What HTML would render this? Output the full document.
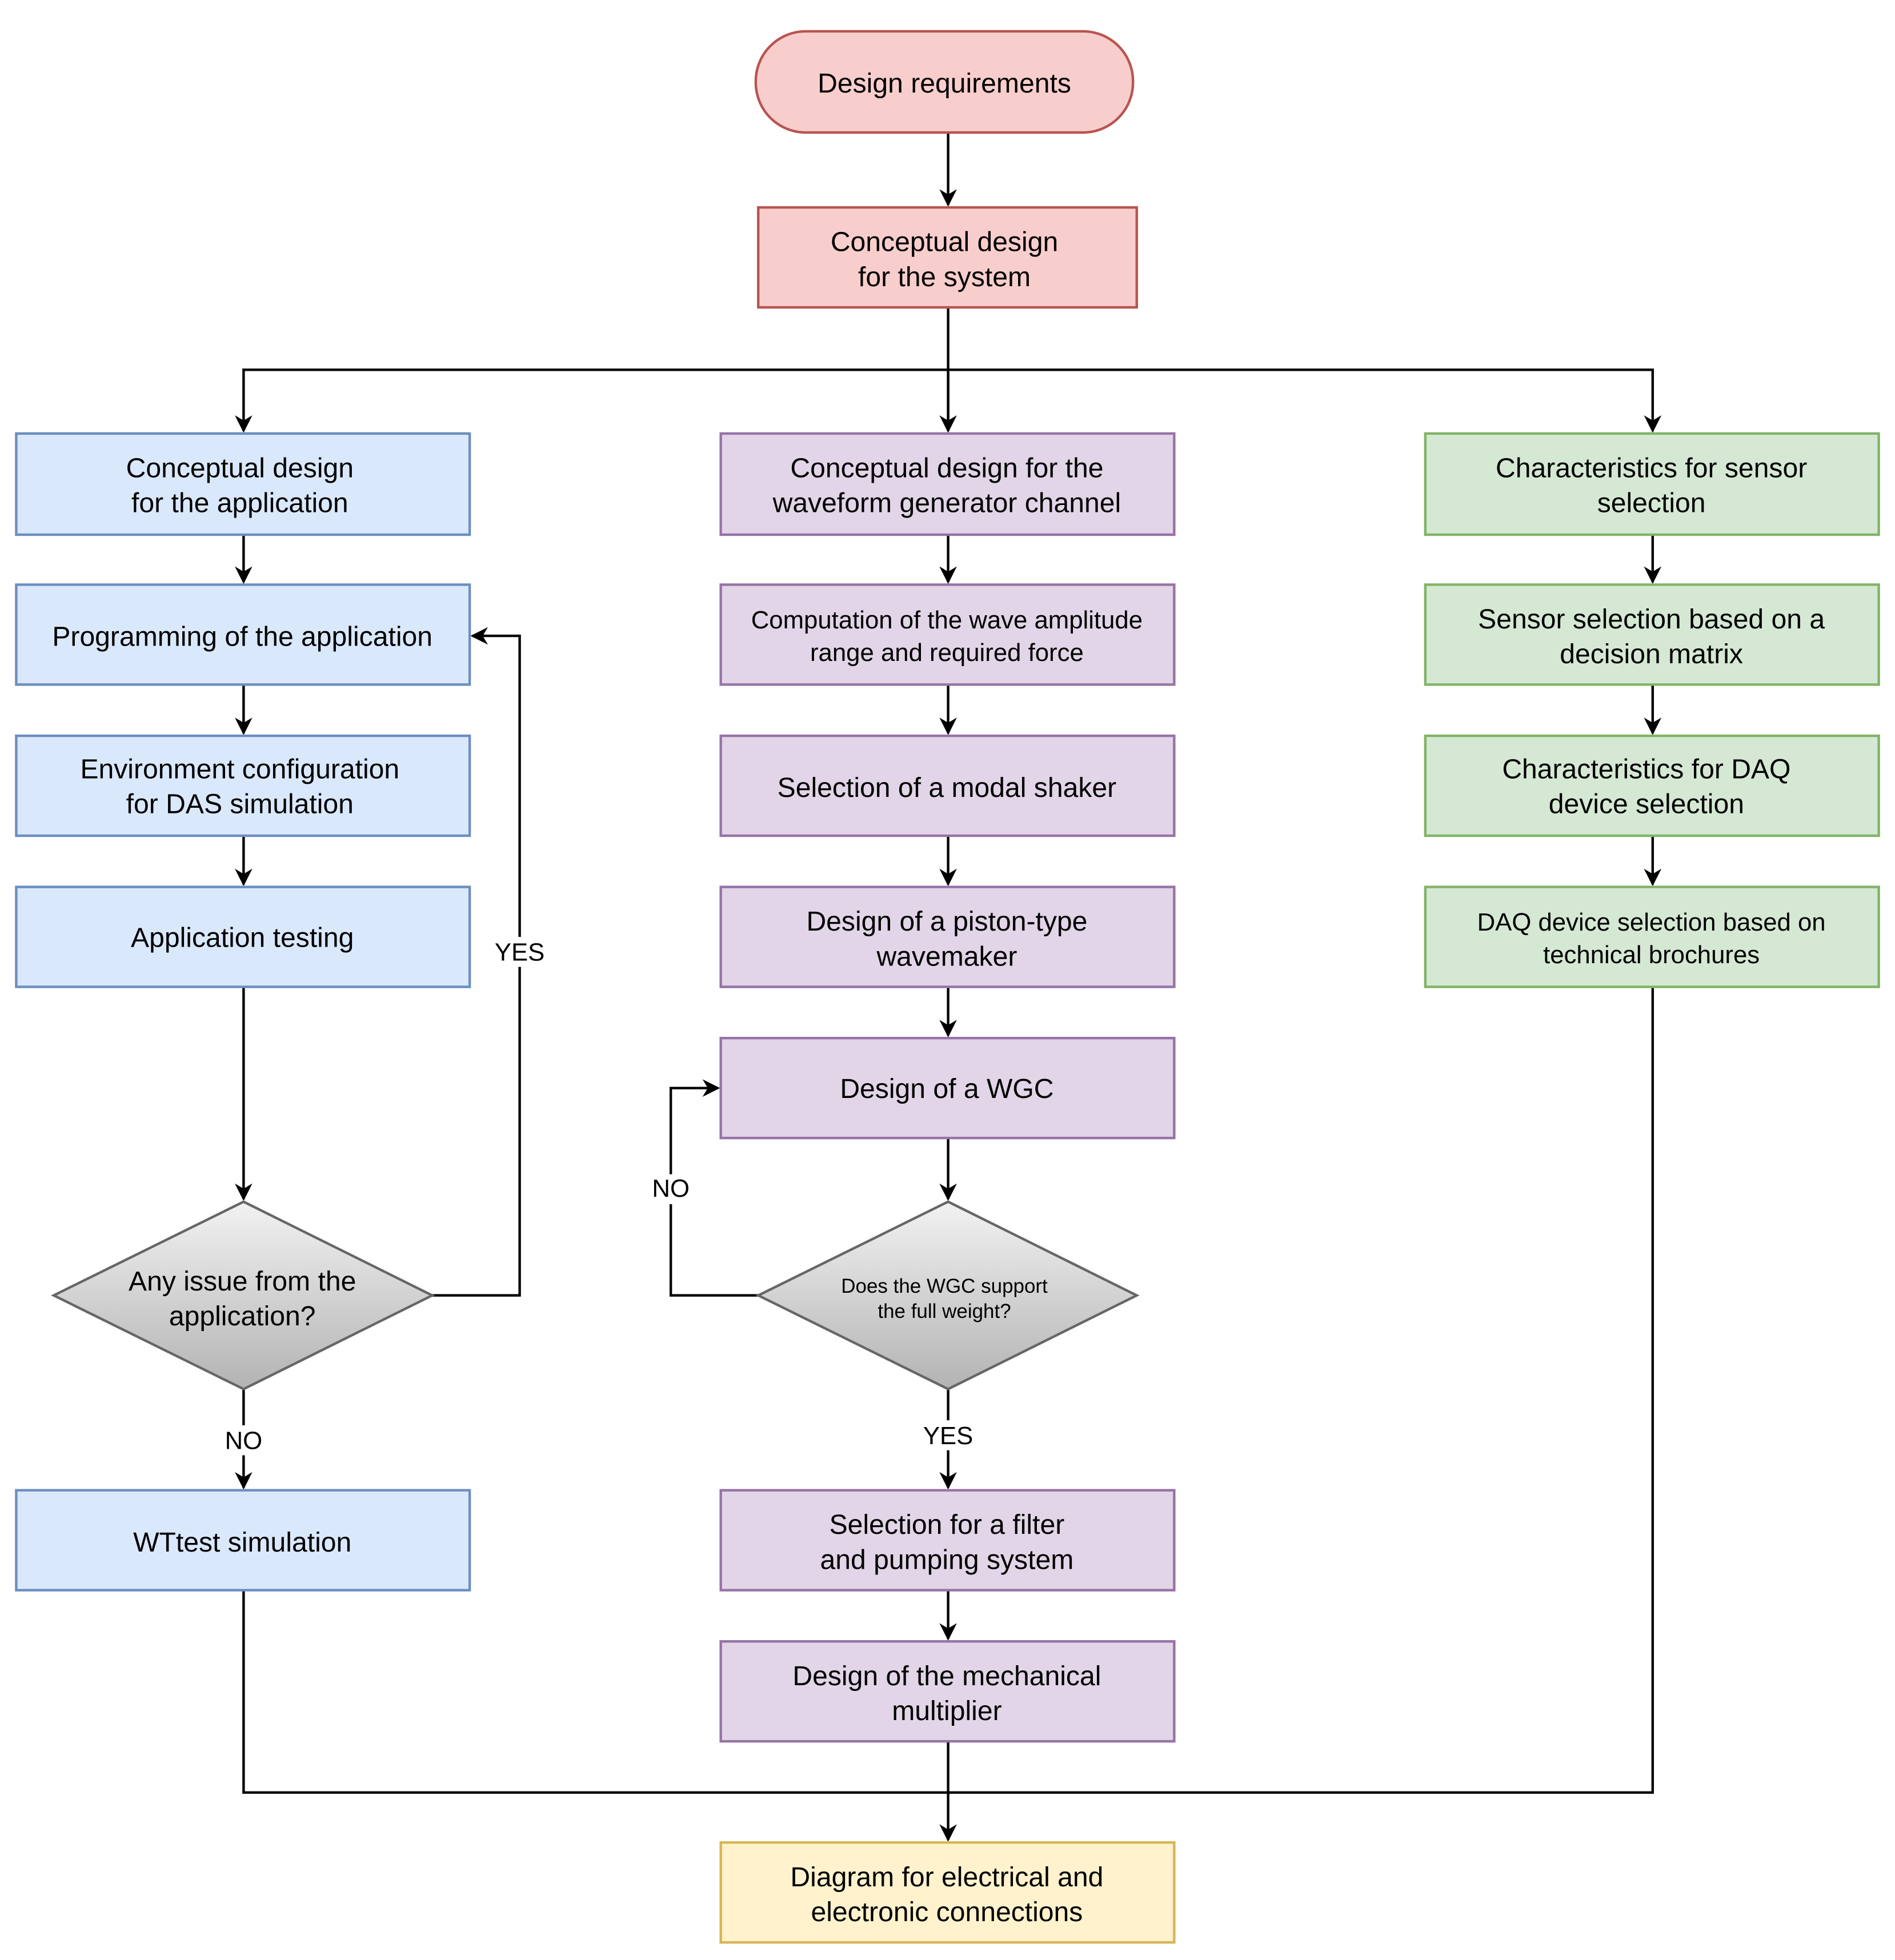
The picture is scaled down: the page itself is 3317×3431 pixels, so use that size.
<!DOCTYPE html>
<html><head><meta charset="utf-8"><style>
html,body{margin:0;padding:0;background:#fff}
svg{display:block}
text{font-family:"Liberation Sans",Arial,sans-serif;fill:#000}
</style></head><body>
<svg width="3317" height="3431" viewBox="0 0 1517 1569" xmlns="http://www.w3.org/2000/svg">
<defs>
<marker id="a" viewBox="0 0 10 10" refX="9" refY="5" markerWidth="14" markerHeight="14" markerUnits="userSpaceOnUse" orient="auto">
<path d="M0,0 L10,5 L0,10 L3,5 z" fill="#000"/></marker>
<linearGradient id="g" x1="0" y1="0" x2="0" y2="1"><stop offset="0" stop-color="#f2f2f2"/><stop offset="1" stop-color="#b3b3b3"/></linearGradient>
</defs>
<rect width="1517" height="1569" fill="#fff"/>
<g fill="none" stroke="#000" stroke-width="2">
<path d="M759 106 V164" marker-end="url(#a)"/>
<path d="M759 246 V345"/>
<path d="M759 296 H195 V345" marker-end="url(#a)"/>
<path d="M759 296 H1323 V345" marker-end="url(#a)"/>
<path d="M759 296 V345" marker-end="url(#a)"/>
<path d="M195 428 V466" marker-end="url(#a)"/>
<path d="M195 548 V587" marker-end="url(#a)"/>
<path d="M195 669 V708" marker-end="url(#a)"/>
<path d="M195 790 V960" marker-end="url(#a)"/>
<path d="M195 1112 V1191" marker-end="url(#a)"/>
<path d="M346 1037 H416 V509 H378" marker-end="url(#a)"/>
<path d="M759 428 V466" marker-end="url(#a)"/>
<path d="M759 548 V587" marker-end="url(#a)"/>
<path d="M759 669 V708" marker-end="url(#a)"/>
<path d="M759 790 V829" marker-end="url(#a)"/>
<path d="M759 911 V960" marker-end="url(#a)"/>
<path d="M607 1037 H537 V871 H575" marker-end="url(#a)"/>
<path d="M759 1112 V1191" marker-end="url(#a)"/>
<path d="M759 1273 V1312" marker-end="url(#a)"/>
<path d="M759 1394 V1473" marker-end="url(#a)"/>
<path d="M1323 428 V466" marker-end="url(#a)"/>
<path d="M1323 548 V587" marker-end="url(#a)"/>
<path d="M1323 669 V708" marker-end="url(#a)"/>
<path d="M195 1273 V1435 H1323 V790"/>
</g>
<rect x="605" y="25" width="302" height="81" rx="40" fill="#f8cecc" stroke="#b85450" stroke-width="2"/>
<rect x="607" y="166" width="303" height="80" fill="#f8cecc" stroke="#b85450" stroke-width="2"/>
<g fill="#dae8fc" stroke="#6c8ebf" stroke-width="2">
<rect x="13" y="347" width="363" height="81"/><rect x="13" y="468" width="363" height="80"/>
<rect x="13" y="589" width="363" height="80"/><rect x="13" y="710" width="363" height="80"/>
<rect x="13" y="1193" width="363" height="80"/></g>
<g fill="#e1d5e7" stroke="#9673a6" stroke-width="2">
<rect x="577" y="347" width="363" height="81"/><rect x="577" y="468" width="363" height="80"/>
<rect x="577" y="589" width="363" height="80"/><rect x="577" y="710" width="363" height="80"/>
<rect x="577" y="831" width="363" height="80"/><rect x="577" y="1193" width="363" height="80"/>
<rect x="577" y="1314" width="363" height="80"/></g>
<g fill="#d5e8d4" stroke="#82b366" stroke-width="2">
<rect x="1141" y="347" width="363" height="81"/><rect x="1141" y="468" width="363" height="80"/>
<rect x="1141" y="589" width="363" height="80"/><rect x="1141" y="710" width="363" height="80"/></g>
<rect x="577" y="1475" width="363" height="80" fill="#fff2cc" stroke="#d6b656" stroke-width="2"/>
<path d="M195 962 L346 1037 L195 1112 L43 1037 Z" fill="url(#g)" stroke="#666" stroke-width="2"/>
<path d="M759 962 L910 1037 L759 1112 L607 1037 Z" fill="url(#g)" stroke="#666" stroke-width="2"/>
<g font-size="22" text-anchor="middle">
<text x="756" y="74">Design requirements</text>
<text x="756" y="201">Conceptual design</text><text x="756" y="229">for the system</text>
<text x="192" y="382">Conceptual design</text><text x="192" y="410">for the application</text>
<text x="194" y="517">Programming of the application</text>
<text x="192" y="623">Environment configuration</text><text x="192" y="651">for DAS simulation</text>
<text x="194" y="758">Application testing</text>
<text x="194" y="1033">Any issue from the</text><text x="194" y="1061">application?</text>
<text x="194" y="1242">WTtest simulation</text>
<text x="758" y="382">Conceptual design for the</text><text x="758" y="410">waveform generator channel</text>
<text x="758" y="638">Selection of a modal shaker</text>
<text x="758" y="745">Design of a piston-type</text><text x="758" y="773">wavemaker</text>
<text x="758" y="879">Design of a WGC</text>
<text x="758" y="1228">Selection for a filter</text><text x="758" y="1256">and pumping system</text>
<text x="758" y="1349">Design of the mechanical</text><text x="758" y="1377">multiplier</text>
<text x="758" y="1510">Diagram for electrical and</text><text x="758" y="1538">electronic connections</text>
<text x="1322" y="382">Characteristics for sensor</text><text x="1322" y="410">selection</text>
<text x="1322" y="503">Sensor selection based on a</text><text x="1322" y="531">decision matrix</text>
<text x="1318" y="623">Characteristics for DAQ</text><text x="1318" y="651">device selection</text>
</g>
<g font-size="20" text-anchor="middle">
<text x="758" y="503">Computation of the wave amplitude</text><text x="758" y="529">range and required force</text>
<text x="1322" y="745">DAQ device selection based on</text><text x="1322" y="771">technical brochures</text>
</g>
<g font-size="16" text-anchor="middle">
<text x="756" y="1035">Does the WGC support</text><text x="756" y="1055">the full weight?</text>
</g>
<g font-size="20" text-anchor="middle">
<rect x="394" y="750" width="44" height="24" fill="#fff"/><text x="416" y="769">YES</text>
<rect x="518" y="940" width="38" height="24" fill="#fff"/><text x="537" y="958">NO</text>
<rect x="176" y="1141" width="38" height="24" fill="#fff"/><text x="195" y="1160">NO</text>
<rect x="736" y="1137" width="46" height="24" fill="#fff"/><text x="759" y="1156">YES</text>
</g>
</svg>
</body></html>
